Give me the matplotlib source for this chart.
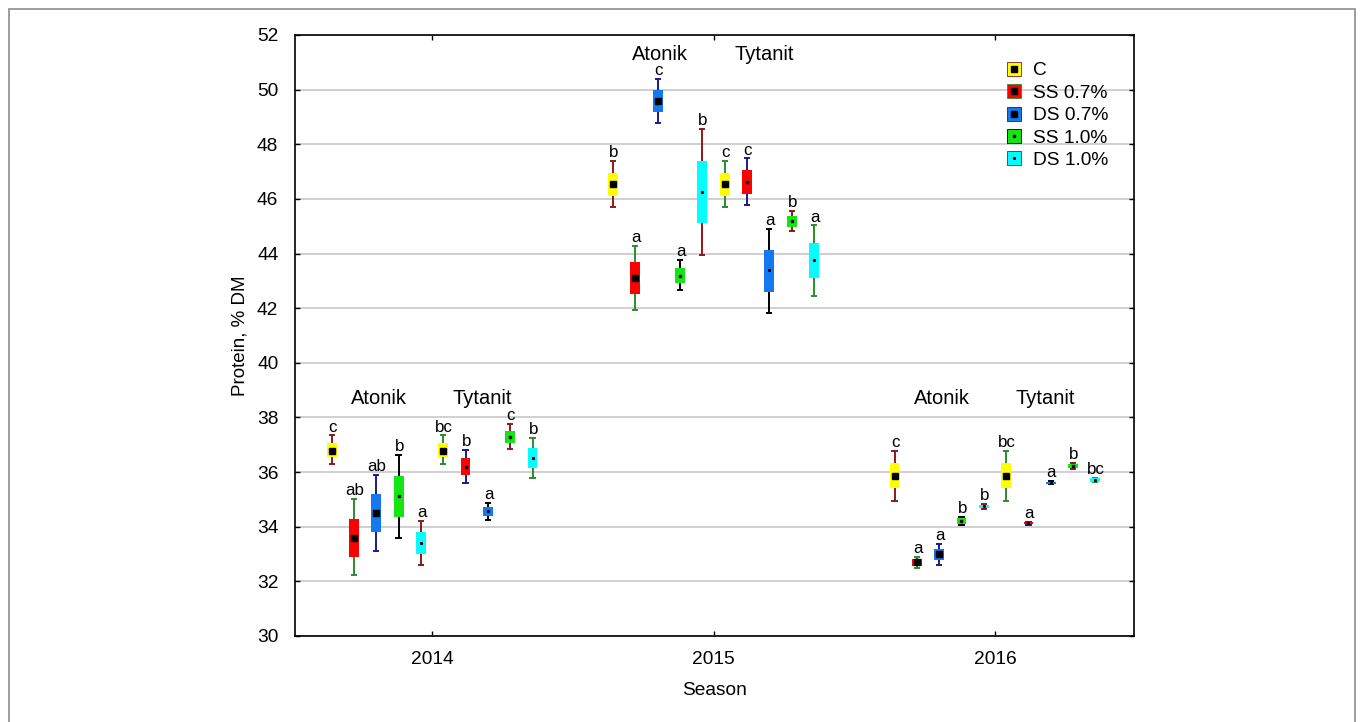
import matplotlib
matplotlib.use("Agg")
import matplotlib.pyplot as plt
from matplotlib.lines import Line2D
from matplotlib.patches import Rectangle

plt.rcParams['font.family'] = ['Liberation Sans', 'DejaVu Sans']

# ---------------- data ----------------
years = ["2014", "2015", "2016"]
treatments = ["Atonik", "Tytanit"]
series = ["C", "SS 0.7%", "DS 0.7%", "SS 1.0%", "DS 1.0%"]

# values per series (rows) and per year (columns)
mean_atonik = [[36.79, 46.53, 35.87], [33.60, 43.09, 32.70], [34.50, 49.60, 33.00],
               [35.11, 43.19, 34.21], [33.40, 46.25, 34.75]]
boxlo_atonik = [[36.54, 46.12, 35.41], [32.91, 42.52, 32.58], [33.80, 49.19, 32.78],
                [34.35, 42.92, 34.11], [33.01, 45.12, 34.69]]
boxhi_atonik = [[37.06, 46.95, 36.32], [34.29, 43.70, 32.81], [35.20, 50.00, 33.17],
                [35.87, 43.47, 34.31], [33.80, 47.40, 34.81]]
whlo_atonik = [[36.28, 45.69, 34.95], [32.22, 41.93, 32.50], [33.11, 48.78, 32.59],
               [33.57, 42.66, 34.05], [32.61, 43.93, 34.66]]
whhi_atonik = [[37.34, 47.40, 36.79], [35.01, 44.29, 32.90], [35.89, 50.40, 33.38],
               [36.62, 43.75, 34.37], [34.21, 48.57, 34.83]]
letters_atonik = [["c", "b", "c"], ["ab", "a", "a"], ["ab", "c", "a"],
                  ["b", "a", "b"], ["a", "b", "b"]]

mean_tytanit = [[36.79, 46.53, 35.87], [36.20, 46.61, 34.12], [34.56, 43.39, 35.61],
                [37.29, 45.19, 36.23], [36.51, 43.75, 35.72]]
boxlo_tytanit = [[36.54, 46.12, 35.41], [35.89, 46.19, 34.09], [34.40, 42.61, 35.58],
                 [37.06, 44.99, 36.15], [36.15, 43.10, 35.65]]
boxhi_tytanit = [[37.06, 46.95, 36.32], [36.50, 47.05, 34.16], [34.73, 44.14, 35.65],
                 [37.52, 45.36, 36.30], [36.87, 44.40, 35.79]]
whlo_tytanit = [[36.28, 45.69, 34.95], [35.60, 45.78, 34.08], [34.26, 41.82, 35.57],
                [36.84, 44.82, 36.13], [35.79, 42.45, 35.64]]
whhi_tytanit = [[37.34, 47.40, 36.79], [36.82, 47.48, 34.17], [34.88, 44.91, 35.66],
                [37.77, 45.56, 36.32], [37.24, 45.03, 35.80]]
letters_tytanit = [["bc", "c", "bc"], ["b", "c", "a"], ["a", "a", "a"],
                   ["c", "b", "b"], ["b", "a", "bc"]]

# ---------------- styles ----------------
box_colors = ['#FFFF00', '#FF0000', '#1478F0', '#14E614', '#00FFFF']
whisker_cycle = ['#8B1A1A', '#2E8B2E', '#1A1A8B', '#000000']
marker_sizes = {"Atonik": [3.8, 3.8, 3.8, 1.6, 1.2],
                "Tytanit": [3.8, 1.6, 1.2, 1.6, 1.2]}
step = 0.0793
box_w = 0.035
cap_half = 0.011

fig = plt.figure(figsize=(13.62, 7.22), dpi=100)
ax = fig.add_axes([295 / 1362, 1 - 636 / 722, (1134 - 295) / 1362, (636 - 35) / 722])

data = {
    "Atonik": (mean_atonik, boxlo_atonik, boxhi_atonik, whlo_atonik, whhi_atonik, letters_atonik),
    "Tytanit": (mean_tytanit, boxlo_tytanit, boxhi_tytanit, whlo_tytanit, whhi_tytanit, letters_tytanit),
}

for ti, tr in enumerate(treatments):
    mean, blo, bhi, wlo, whi, let = data[tr]
    for si in range(len(series)):
        k = ti * len(series) + si
        offs = (k - 4.5) * step
        wc = whisker_cycle[k % 4]
        for yi in range(len(years)):
            x = yi + offs
            ax.vlines(x, wlo[si][yi], whi[si][yi], colors=wc, lw=1.4, zorder=3)
            ax.hlines([wlo[si][yi], whi[si][yi]], x - cap_half, x + cap_half,
                      colors=wc, lw=1.4, zorder=3)
            ax.bar(x, bhi[si][yi] - blo[si][yi], bottom=blo[si][yi], width=box_w,
                   color=box_colors[si], edgecolor='none', zorder=4)
            ax.plot(x, mean[si][yi], marker='s', ms=marker_sizes[tr][si],
                    color='black', ls='', zorder=5)
            ax.annotate(let[si][yi], (x, whi[si][yi]), xytext=(0.5, 2.8),
                        textcoords='offset points', ha='center', va='baseline',
                        fontsize=12.2, zorder=6)

# treatment labels
label_y = [38.5, 51.08, 38.5]
for yi in range(len(years)):
    ax.text(yi - 0.19, label_y[yi], "Atonik", ha='center', va='baseline', fontsize=14.5)
    ax.text(yi + 0.18, label_y[yi], "Tytanit", ha='center', va='baseline', fontsize=14.5)

ax.set_xlim(-0.487, 2.494)
ax.set_ylim(30, 52)
ax.set_yticks(range(30, 53, 2))
ax.set_xticks(range(len(years)))
ax.set_xticklabels(years)
ax.yaxis.grid(True, color='#c8c8c8', lw=1.2, zorder=0)
ax.set_axisbelow(True)
ax.tick_params(direction='in', length=3.5, width=1.0, top=True, right=True,
               labelsize=13.8)
ax.tick_params(axis='x', pad=11)
ax.tick_params(axis='y', pad=12)
for sp in ax.spines.values():
    sp.set_linewidth(1.2)
ax.set_xlabel("Season", fontsize=13.8, labelpad=10)
ax.set_ylabel("Protein, % DM", fontsize=13.5, labelpad=6)

# legend
handles = []
for si in range(len(series)):
    h1 = Line2D([], [], marker='s', ms=9.5, mfc=box_colors[si],
                mec=whisker_cycle[si % 4], mew=0.6, ls='')
    h2 = Line2D([], [], marker='s', ms=marker_sizes["Atonik"][si], color='black', ls='')
    handles.append((h1, h2))
ax.legend(handles, series, loc='upper left', bbox_to_anchor=(0.848, 0.955),
          frameon=False, fontsize=13.8, handlelength=0.8, handletextpad=0.6,
          labelspacing=0.26, borderpad=0, borderaxespad=0)

# figure border
fig.patches.append(Rectangle((8.5 / 1362, -0.05), (1355 - 8.5) / 1362, 1.05 - 8.5 / 722,
                             transform=fig.transFigure, fill=False,
                             edgecolor='#8c8c8c', lw=1.2))

fig.savefig("out.png", dpi=100)
